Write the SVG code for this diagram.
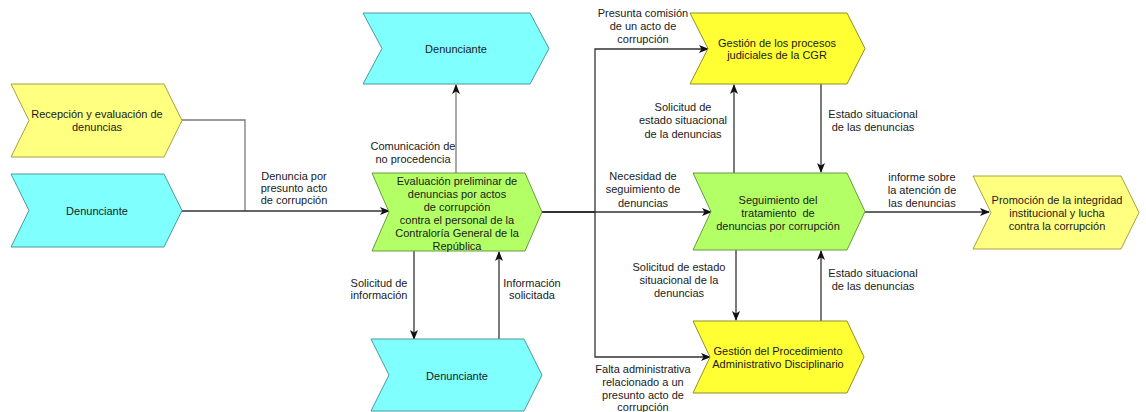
<svg xmlns="http://www.w3.org/2000/svg" width="1146" height="412" viewBox="0 0 1146 412">
<style>
text{font-family:"Liberation Sans",Arial,sans-serif;font-size:11px;fill:#1a1a1a;text-anchor:middle;dominant-baseline:central}
.ly{fill:#FFFF80;stroke:#a3a347;stroke-width:1}
.by{fill:#FFFF33;stroke:#8f8f2a;stroke-width:1}
.cy{fill:#80FFFF;stroke:#4d9999;stroke-width:1}
.gr{fill:#B3FF66;stroke:#6b9940;stroke-width:1}
.c{fill:none;stroke:#333;stroke-width:1.3}
.g{fill:none;stroke:#7a7a7a;stroke-width:1.3}
.a{marker-end:url(#ar)}
</style>
<defs>
<marker id="ar" markerUnits="userSpaceOnUse" markerWidth="10" markerHeight="10" viewBox="0 0 10 10" refX="9" refY="5" orient="auto">
<path d="M0,1 L10,5 L0,9 L2.5,5 Z" fill="#111"/>
</marker>
</defs>
<g id="connectors">
<path class="g" d="M182,120 H245 V211"/>
<path class="c a" d="M182,211 H389"/>
<path class="g a" d="M456,173 V85"/>
<path class="c a" d="M414,251 V339"/>
<path class="c a" d="M499,339 V252"/>
<path class="c" d="M542,212 H595" style="stroke-width:2"/>
<path class="c a" d="M595,212 H711"/>
<path class="c a" d="M595,212 V49 H708"/>
<path class="c a" d="M595,212 V357 H710"/>
<path class="c a" d="M734,173 V85"/>
<path class="c a" d="M821,84 V172"/>
<path class="c a" d="M736,250 V320"/>
<path class="c a" d="M821,321 V251"/>
<path class="c a" d="M865,212 H989"/>
<g id="labels">
<text x="294" y="176">Denuncia por</text>
<text x="294" y="188">presunto acto</text>
<text x="294" y="200">de corrupción</text>
<text x="413" y="146">Comunicación de</text>
<text x="413" y="159">no procedencia</text>
<text x="379" y="283">Solicitud de</text>
<text x="379" y="295">información</text>
<text x="532" y="283">Información</text>
<text x="532" y="295">solicitada</text>
<text x="643" y="13">Presunta comisión</text>
<text x="643" y="26">de un acto de</text>
<text x="643" y="39">corrupción</text>
<text x="683" y="107">Solicitud de</text>
<text x="683" y="120">estado situacional</text>
<text x="683" y="134">de la denuncias</text>
<text x="873" y="114">Estado situacional</text>
<text x="873" y="127">de las denuncias</text>
<text x="643" y="176">Necesidad de</text>
<text x="643" y="189">seguimiento de</text>
<text x="643" y="203">denuncias</text>
<text x="679" y="267">Solicitud de estado</text>
<text x="679" y="280">situacional de la</text>
<text x="679" y="293">denuncias</text>
<text x="873" y="273">Estado situacional</text>
<text x="873" y="286">de las denuncias</text>
<text x="643" y="369">Falta administrativa</text>
<text x="643" y="382">relacionado a un</text>
<text x="643" y="395">presunto acto de</text>
<text x="643" y="407">corrupción</text>
<text x="922" y="177">informe sobre</text>
<text x="922" y="190">la atención de</text>
<text x="922" y="203">las denuncias</text>
</g>
</g>
<g id="recepcion">
<polygon class="ly" points="11,84 164,84 182,120.5 164,157 11,157 29,120.5"/>
<text x="97" y="114">Recepción y evaluación de</text>
<text x="97" y="127">denuncias</text>
</g>
<g id="denunciante1">
<polygon class="cy" points="11,174 164,174 182,210.5 164,247 11,247 29,210.5"/>
<text x="97" y="211">Denunciante</text>
</g>
<g id="evaluacion">
<polygon class="gr" points="372,173 525,173 542,212 525,251 372,251 389,212"/>
<text x="457" y="181">Evaluación preliminar de</text>
<text x="457" y="194">denuncias por actos</text>
<text x="457" y="207">de corrupción</text>
<text x="457" y="220">contra el personal de la</text>
<text x="457" y="233">Contraloría General de la</text>
<text x="457" y="246">República</text>
</g>
<g id="denunciante2">
<polygon class="cy" points="363,13 530,13 549,48.5 530,84 363,84 382,48.5"/>
<text x="456" y="49">Denunciante</text>
</g>
<g id="denunciante3">
<polygon class="cy" points="371,339 524,339 542,375 524,411 371,411 389,375"/>
<text x="457" y="376">Denunciante</text>
</g>
<g id="gestion-judicial">
<polygon class="by" points="690,13 847,13 865,48.5 847,84 690,84 708,48.5"/>
<text x="777" y="43">Gestión de los procesos</text>
<text x="777" y="55">judiciales de la CGR</text>
</g>
<g id="seguimiento">
<polygon class="gr" points="693,173 847,173 865,211.5 847,250 693,250 711,211.5"/>
<text x="778" y="200">Seguimiento del</text>
<text x="778" y="213" xml:space="preserve">tratamiento  de</text>
<text x="778" y="226">denuncias por corrupción</text>
</g>
<g id="gestion-pad">
<polygon class="by" points="693,321 847,321 864,357 847,393 693,393 710,357"/>
<text x="778" y="351">Gestión del Procedimiento</text>
<text x="778" y="364">Administrativo Disciplinario</text>
</g>
<g id="promocion">
<polygon class="ly" points="973,176 1121,176 1139,212.5 1121,249 973,249 991,212.5"/>
<text x="1057" y="200">Promoción de la integridad</text>
<text x="1057" y="213">institucional y lucha</text>
<text x="1057" y="226">contra la corrupción</text>
</g>
</svg>
